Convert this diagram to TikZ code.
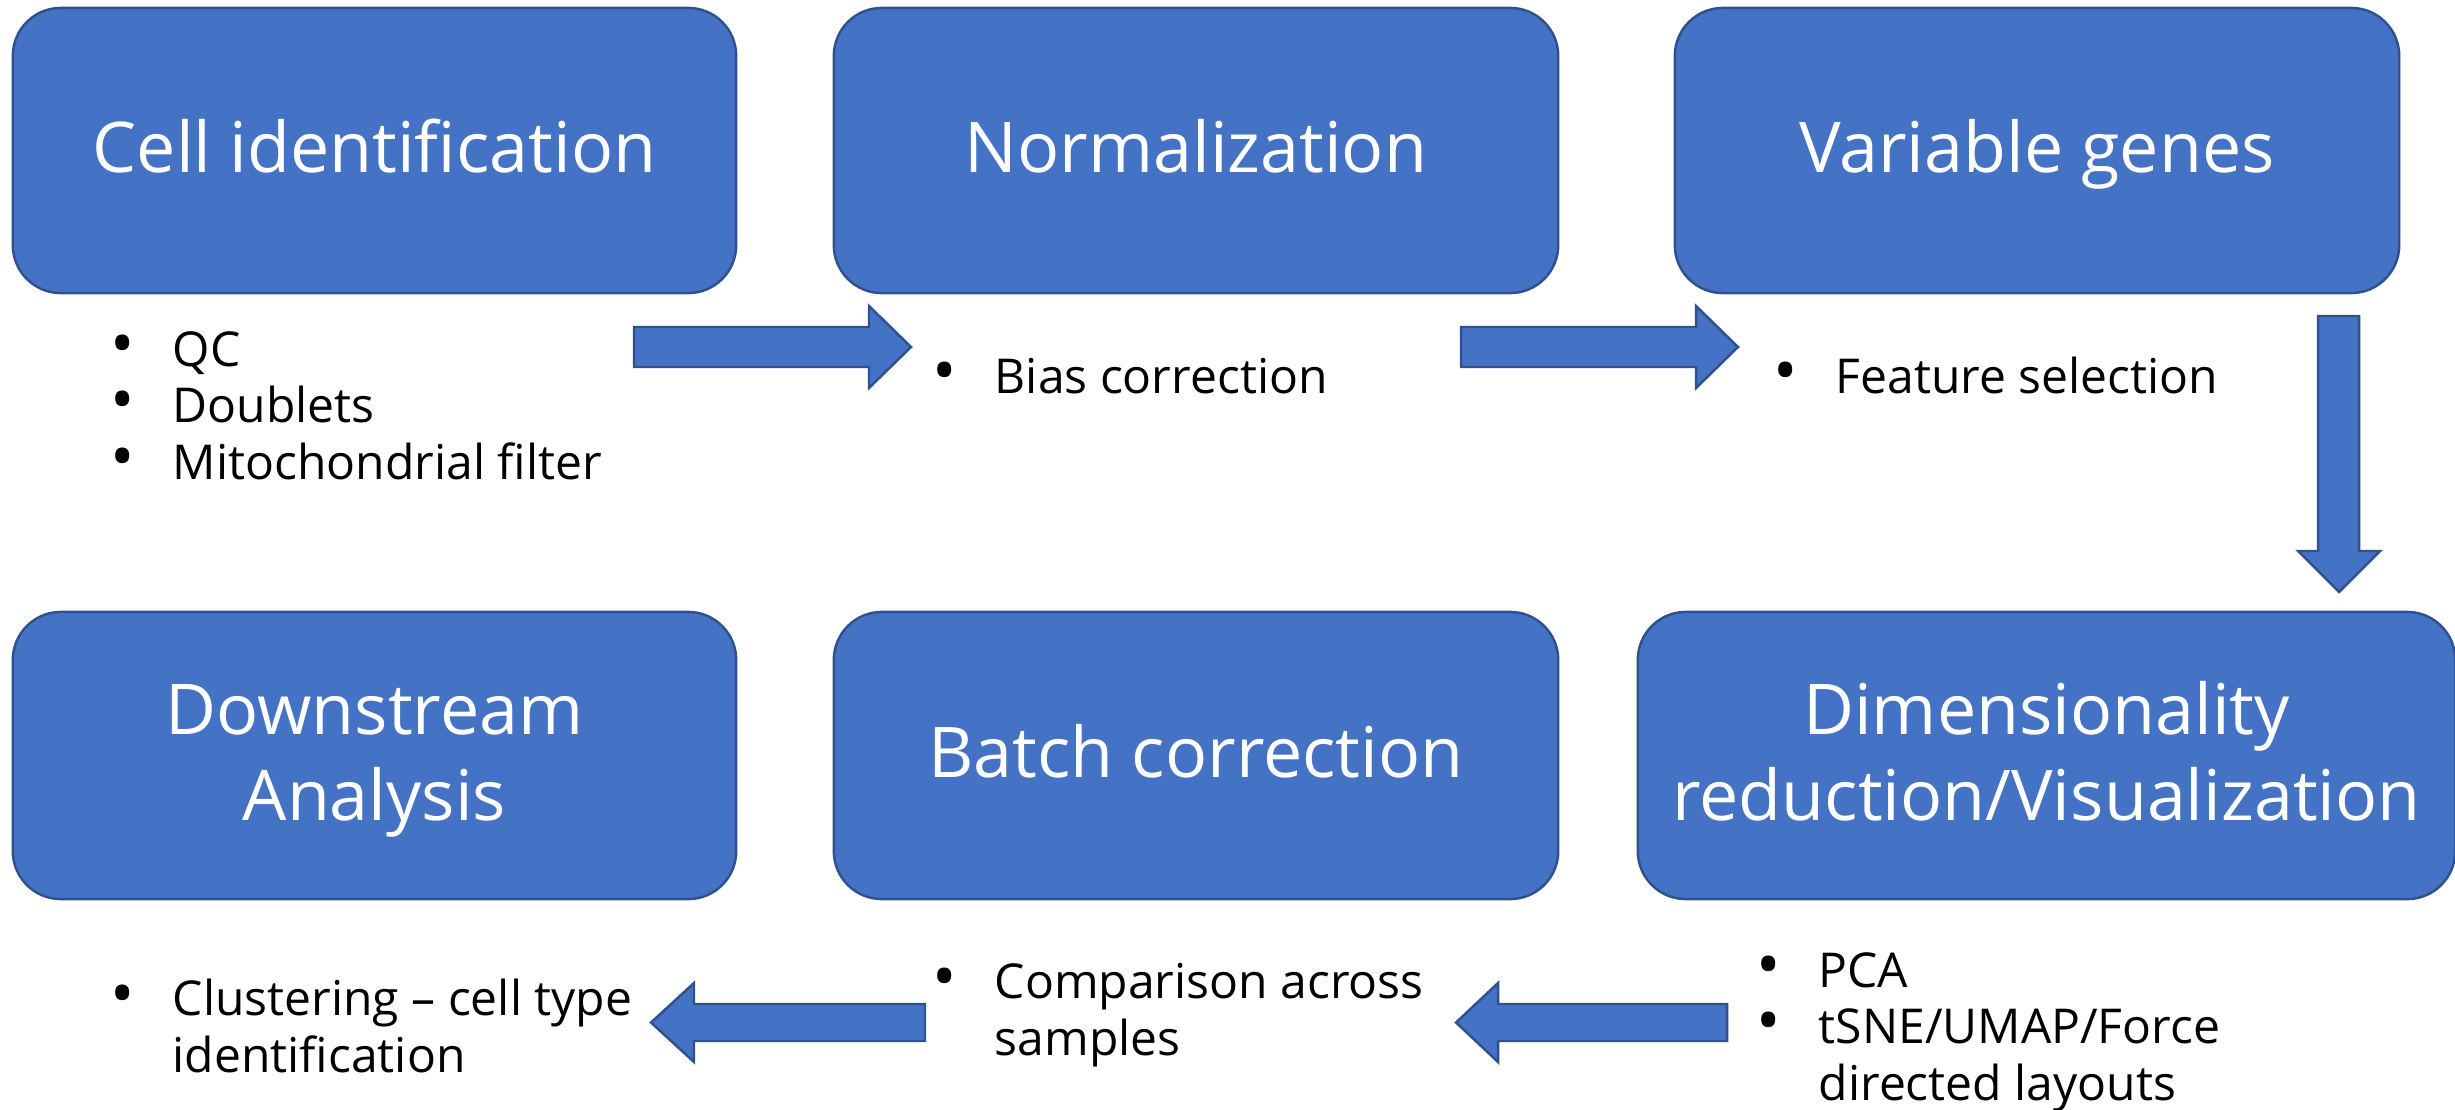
\documentclass[tikz,border=0pt]{standalone}
\usepackage{fontspec}
\setmainfont{Open Sans}
\definecolor{boxfill}{HTML}{4472C4}
\definecolor{boxline}{HTML}{2F528F}
\newcommand{\bul}{\makebox[0.62cm][l]{\scalebox{1.35}{\textbullet}}}
\newcommand{\cont}{\hspace*{0.62cm}}
\newcommand{\tstrut}{\rule[-7.35pt]{0pt}{27.35pt}}
\begin{document}
\begin{tikzpicture}[x=0.01cm,y=-0.01cm,
  stage/.style={draw=boxline, fill=boxfill, line width=0.7pt, rounded corners=0.48cm,
    text=white, font=\fontsize{19.9pt}{24.5pt}\selectfont, align=center, inner sep=0pt},
  notes/.style={anchor=base west, inner sep=0pt, align=left, font=\fontsize{13.66pt}{15.93pt}\selectfont, text=black},
  blockarrow/.style={draw=boxline, fill=boxfill, line width=0.7pt, line join=miter}]
\useasboundingbox (0,0) rectangle (2455,1109);
% stage boxes
\node[stage, minimum width=7.23cm, minimum height=2.85cm] (cell) at (374.5,150.5) {\tstrut Cell identification};
\node[stage, minimum width=7.24cm, minimum height=2.85cm] (norm) at (1196,150.5) {\tstrut Normalization};
\node[stage, minimum width=7.24cm, minimum height=2.85cm] (var) at (2037,150.5) {\tstrut Variable genes};
\node[stage, minimum width=7.23cm, minimum height=2.87cm] (down) at (374.5,755.5) {\tstrut Downstream\\\strut Analysis};
\node[stage, minimum width=7.24cm, minimum height=2.87cm] (batch) at (1196,755.5) {\tstrut Batch correction};
\node[stage, minimum width=8.17cm, minimum height=2.87cm] (dim) at (2046.5,755.5) {\tstrut Dimensionality\\\strut reduction/Visualization};
% notes (anchored at the baseline of their last line)
\node[notes] (n1) at (110,479) {\bul QC\\\bul Doublets\\\bul Mitochondrial filter};
\node[notes] (n2) at (932,393) {\bul Bias correction};
\node[notes] (n3) at (1773,393) {\bul Feature selection};
\node[notes] (n6) at (1756,1100) {\bul PCA\\\bul tSNE/UMAP/Force\\\cont directed layouts};
\node[notes] (n5) at (932,1055) {\bul Comparison across\\\cont samples};
\node[notes] (n4) at (110,1072) {\bul Clustering – cell type\\\cont identification};
% block arrows
\draw[blockarrow] (634,327) -- (869,327) -- (869,306) -- (911,347) -- (869,388) -- (869,367) -- (634,367) -- cycle;
\draw[blockarrow] (1461,327) -- (1696,327) -- (1696,306) -- (1738,347) -- (1696,388) -- (1696,367) -- (1461,367) -- cycle;
\draw[blockarrow] (2318,316) -- (2359,316) -- (2359,551) -- (2380,551) -- (2339,592) -- (2298,551) -- (2318,551) -- cycle;
\draw[blockarrow] (1727,1004) -- (1498,1004) -- (1498,983) -- (1456,1022.5) -- (1498,1062) -- (1498,1041) -- (1727,1041) -- cycle;
\draw[blockarrow] (925,1004) -- (694,1004) -- (694,983) -- (651,1022.5) -- (694,1062) -- (694,1041) -- (925,1041) -- cycle;
\end{tikzpicture}
\end{document}
